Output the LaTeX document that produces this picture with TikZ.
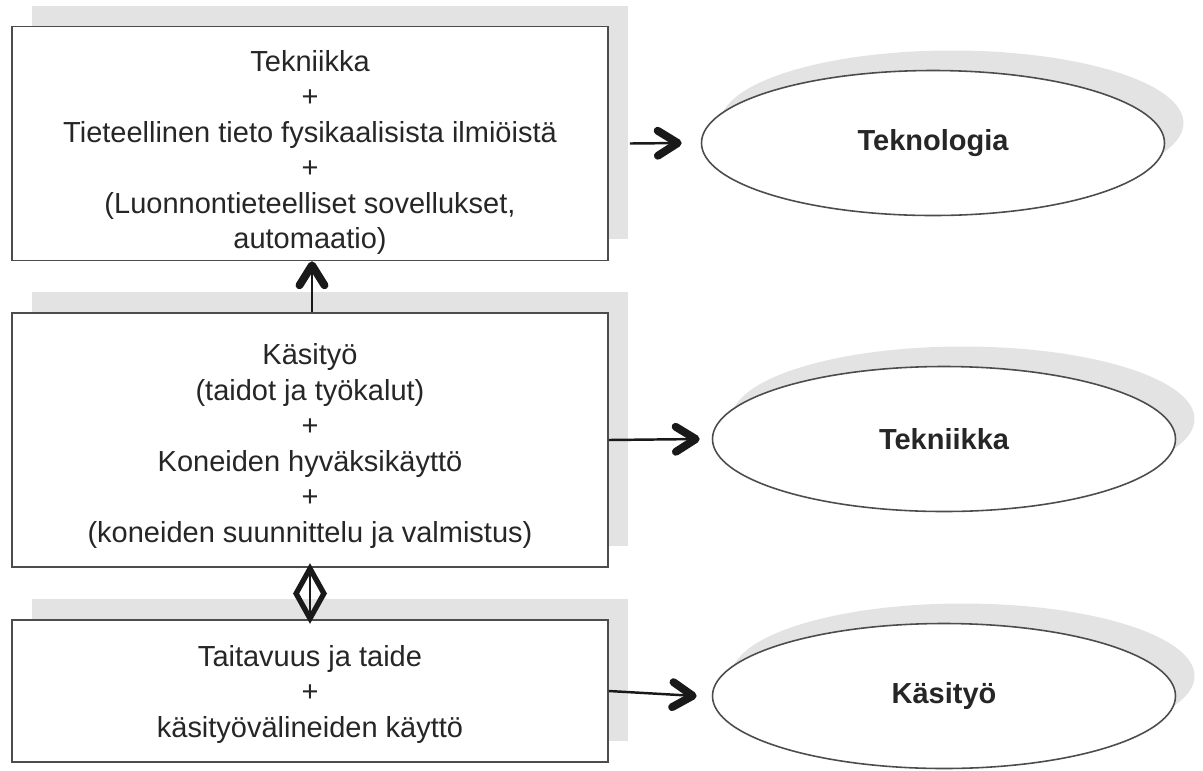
\documentclass[tikz,border=0pt]{standalone}
\usepackage{fontspec}
\setmainfont{Liberation Sans}
\usetikzlibrary{arrows.meta,positioning,shapes.geometric,shadows}

\begin{document}
\begin{tikzpicture}[
  box/.style={draw=black!70,line width=1pt,fill=white,minimum width=11.92cm,align=center,
    font=\fontsize{16.5}{20.2}\selectfont,text=black!85,
    drop shadow={shadow xshift=0.4cm,shadow yshift=0.42cm,fill=black!11,opacity=1}},
  oval/.style={ellipse,draw=black!70,line width=0.9pt,fill=white,minimum width=9.26cm,minimum height=2.9cm,
    font=\fontsize{16.5}{20}\selectfont\bfseries,text=black!85,
    drop shadow={shadow xshift=0.38cm,shadow yshift=0.4cm,fill=black!11,opacity=1}},
  arr/.style={-{Straight Barb[length=0.4cm,width=0.5cm,line width=4.5pt 0,round]},line width=1.4pt,black!90},
  uparr/.style={-{Straight Barb[length=0.4cm,width=0.5cm,line width=4.5pt 0,round]},line width=1.2pt,black!90},
  link/.style={line width=1.2pt,black!90},
  gem/.style={diamond,draw=black!90,line width=3pt,minimum width=0.6cm,minimum height=1.04cm,inner sep=0pt}
]
  \useasboundingbox (0,0) rectangle (24.06,-15.4);
  % left column
  \node[box,minimum height=4.62cm] (tech) at (6.2,-2.87) {\rule{0pt}{22pt}Tekniikka\\+\\Tieteellinen tieto fysikaalisista ilmiöistä\\+\\(Luonnontieteelliset sovellukset,\\automaatio)};
  \node[box,minimum height=5.08cm] (craft) at (6.2,-8.8) {\rule{0pt}{19pt}Käsityö\\(taidot ja työkalut)\\+\\Koneiden hyväksikäyttö\\+\\(koneiden suunnittelu ja valmistus)};
  \node[box,minimum height=2.84cm] (skill) at (6.2,-13.82) {\rule{0pt}{15.5pt}Taitavuus ja taide\\+\\käsityövälineiden käyttö};
  % right column
  \node[oval] (teknologia) at (18.66,-2.86) {Teknologia};
  \node[oval] (tekniikka) at (18.88,-8.78) {Tekniikka};
  \node[oval] (kasityo) at (18.88,-13.92) {Käsityö};
  % connectors
  \draw[arr] ([xshift=0.42cm]tech.east) -- ([xshift=-0.38cm]teknologia.west);
  \draw[arr] (craft.east) -- ([xshift=-0.24cm]tekniikka.west);
  \draw[arr] (skill.east) -- ([xshift=-0.3cm]kasityo.west);
  \draw[uparr] ([xshift=0.04cm]craft.north) -- ([xshift=0.04cm]tech.south);
  \draw[link] (craft.south) -- (skill.north) node[midway,gem] (pair) {};
\end{tikzpicture}
\end{document}
